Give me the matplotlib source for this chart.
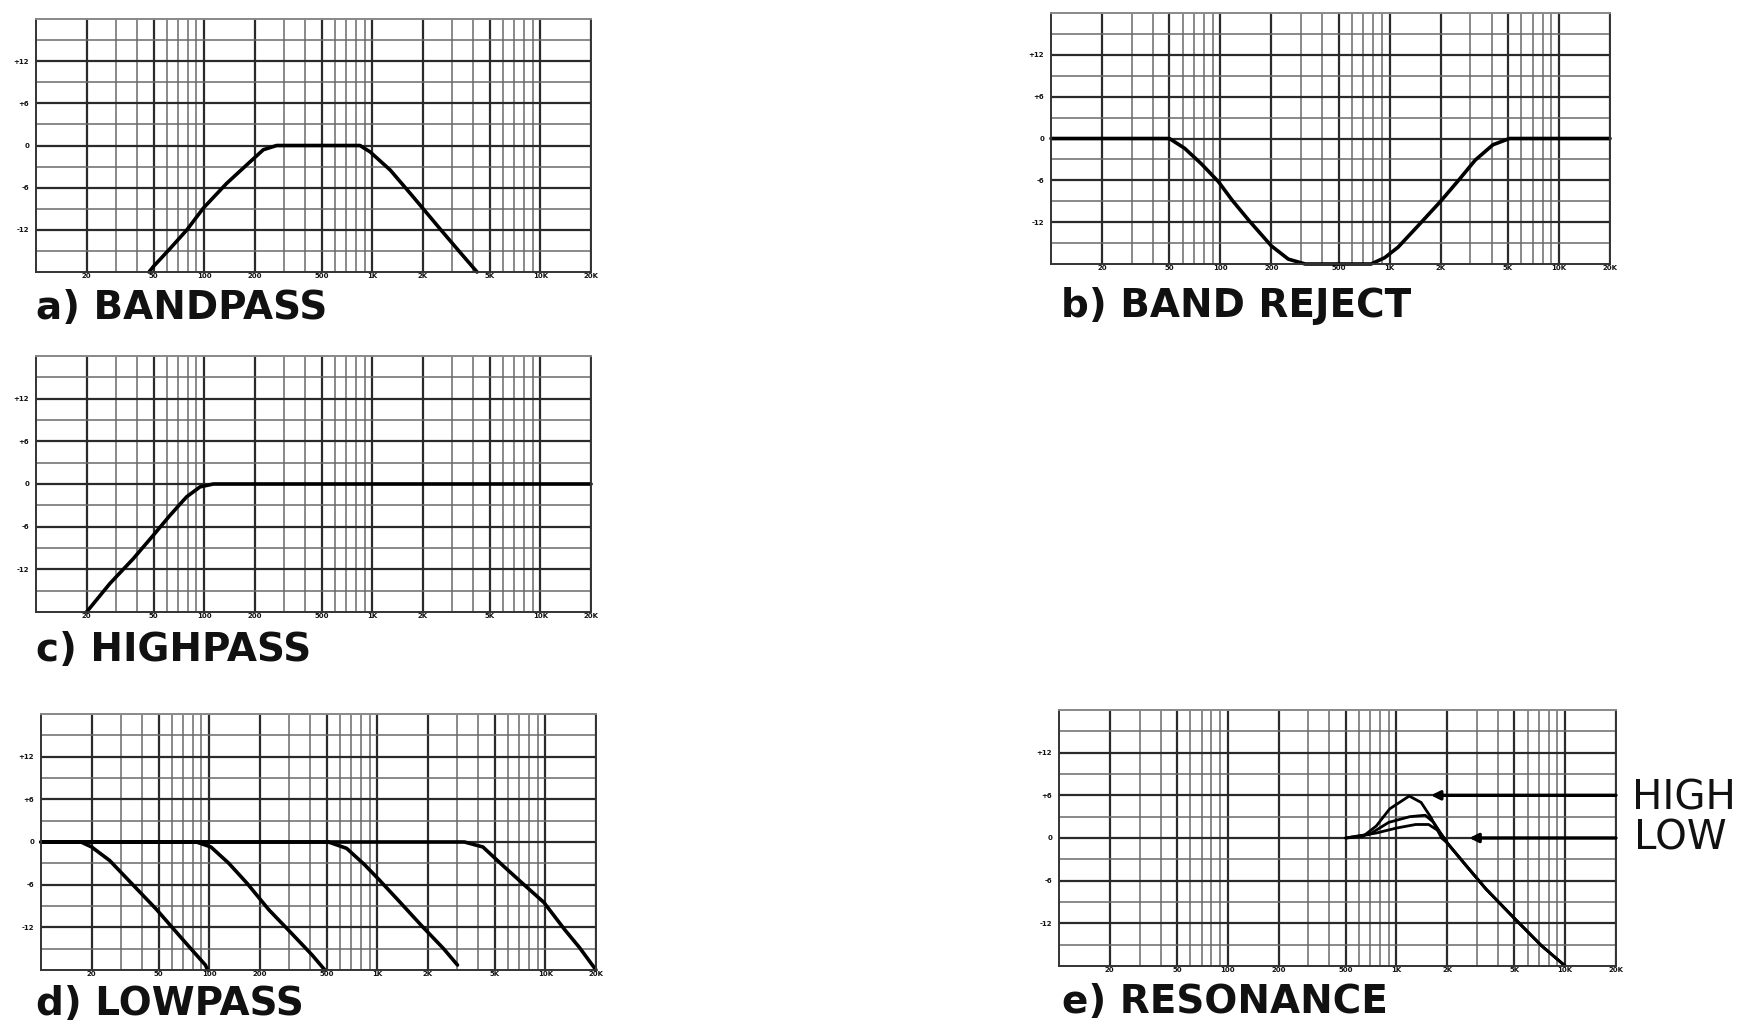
import matplotlib
matplotlib.use("Agg")
import matplotlib.pyplot as plt
from matplotlib.ticker import FixedLocator, FixedFormatter, NullFormatter

# ---- frequency-response data (Hz, dB) ----
bandpass_f = [47, 50, 62, 79, 99, 136, 188, 225, 270, 845, 970, 1280, 1680, 2160, 2600, 3300, 4200]
bandpass_db = [-18, -17.2, -14.8, -12.0, -8.9, -5.4, -2.3, -0.6, 0, 0, -0.9, -3.5, -6.8, -9.9, -12.2, -15.1, -18]

reject_f = [10, 50, 61.5, 77, 97.5, 117, 148, 200, 252, 317, 776, 934, 1120, 1410, 2000, 2570, 3200, 4070, 5100, 20000]
reject_db = [0, 0, -1.4, -3.6, -6.2, -8.8, -11.8, -15.4, -17.3, -18, -18, -17.1, -15.6, -13.0, -9.0, -5.9, -3.1, -0.9, 0, 0]

highpass_f = [20, 27.5, 37.9, 49.9, 62.7, 78.7, 94.6, 113.5, 20000]
highpass_db = [-18, -14.0, -10.5, -7.2, -4.4, -1.8, -0.4, 0, 0]

lowpass1_f = [10, 17.3, 20, 25.6, 34.5, 48.7, 69, 95, 98]
lowpass1_db = [0, 0, -0.7, -2.6, -5.8, -9.5, -13.6, -17.3, -18]
lowpass2_f = [10, 84, 102.5, 131, 168, 226, 305, 410, 488]
lowpass2_db = [0, 0, -0.7, -3.0, -5.8, -9.5, -12.7, -15.9, -18]
lowpass3_f = [10, 513, 658, 841, 1025, 1370, 1840, 2480, 3000]
lowpass3_db = [0, 0, -0.9, -3.2, -5.3, -8.5, -11.8, -15.0, -17.3]
lowpass4_f = [10, 3300, 4250, 5700, 7300, 9800, 13100, 15900, 20000]
lowpass4_db = [0, 0, -0.7, -3.5, -5.8, -8.5, -12.4, -14.8, -18]

res_high_f = [500, 631, 760, 912, 1190, 1400, 1600, 1850, 2000, 2570, 3400, 5000, 7200, 10000]
res_high_db = [0, 0.2, 1.7, 4.1, 5.9, 5.0, 2.9, 0, -0.7, -3.8, -7.2, -11.3, -15.1, -18]
res_mid_f = [500, 690, 900, 1200, 1480, 1660, 1900, 2000, 2570, 3400, 5000, 7200, 10000]
res_mid_db = [0, 0.5, 2.2, 3.0, 3.2, 2.2, 0.1, -0.7, -3.8, -7.2, -11.3, -15.1, -18]
res_low_f = [500, 760, 1000, 1300, 1550, 1750, 1950, 2000, 2570, 3400, 5000, 7200, 10000]
res_low_db = [0, 0.7, 1.4, 1.9, 1.9, 1.1, -0.2, -0.7, -3.8, -7.2, -11.3, -15.1, -18]

# arrow tips for the resonance labels (Hz, dB)
high_arrow = (1600, 6)
low_arrow = (2700, 0)

# ---- axis grid definitions ----
x_major = [20, 50, 100, 200, 500, 1000, 2000, 5000, 10000, 20000]
x_major_labels = ["20", "50", "100", "200", "500", "1K", "2K", "5K", "10K", "20K"]
x_minor = [30, 40, 60, 70, 80, 90, 300, 400, 600, 700, 800, 900,
           3000, 4000, 6000, 7000, 8000, 9000]
y_major = [-12, -6, 0, 6, 12]
y_major_labels = ["-12", "-6", "0", "+6", "+12"]
y_minor = [-15, -9, -3, 3, 9, 15]

W, H = 1757, 1024
fig = plt.figure(figsize=(W / 100, H / 100), dpi=100)
fig.patch.set_facecolor("white")


def chart(left, top, right, bottom):
    ax = fig.add_axes([left / W, 1 - bottom / H, (right - left) / W, (bottom - top) / H])
    ax.set_xscale("log")
    ax.set_xlim(10, 20000)
    ax.set_ylim(-18, 18)
    ax.xaxis.set_major_locator(FixedLocator(x_major))
    ax.xaxis.set_major_formatter(FixedFormatter(x_major_labels))
    ax.xaxis.set_minor_locator(FixedLocator(x_minor))
    ax.xaxis.set_minor_formatter(NullFormatter())
    ax.yaxis.set_major_locator(FixedLocator(y_major))
    ax.yaxis.set_major_formatter(FixedFormatter(y_major_labels))
    ax.yaxis.set_minor_locator(FixedLocator(y_minor))
    ax.tick_params(which="both", length=0)
    ax.tick_params(axis="x", which="major", pad=1, labelsize=5, labelcolor="#111111")
    ax.tick_params(axis="y", which="major", pad=5, labelsize=5, labelcolor="#111111")
    for lab in ax.get_xticklabels() + ax.get_yticklabels():
        lab.set_fontweight("bold")
    ax.grid(which="major", color="#2a2a2a", lw=1.6)
    ax.grid(which="minor", color="#6a6a6a", lw=1.1)
    for side in ("left", "right", "bottom"):
        ax.spines[side].set_color("#333333")
        ax.spines[side].set_linewidth(1.4)
    ax.spines["top"].set_color("#888888")
    ax.spines["top"].set_linewidth(1.4)
    ax.set_axisbelow(True)
    return ax


curve = dict(color="black", lw=2.6, solid_joinstyle="round", solid_capstyle="round", clip_on=False)
label_font = dict(family="DejaVu Sans", fontweight="bold", fontsize=28, color="#111111", va="baseline")

# a) bandpass
ax_a = chart(36, 19, 591, 272)
ax_a.plot(bandpass_f, bandpass_db, **curve)
fig.text(36 / W, 1 - 319 / H, "a) BANDPASS", **label_font)

# b) band reject
ax_b = chart(1051, 13, 1610, 264)
ax_b.plot(reject_f, reject_db, **curve)
fig.text(1061 / W, 1 - 317 / H, "b) BAND REJECT", **label_font)

# c) highpass
ax_c = chart(36, 356, 591, 612)
ax_c.plot(highpass_f, highpass_db, **curve)
fig.text(36 / W, 1 - 661 / H, "c) HIGHPASS", **label_font)

# d) lowpass, four cutoff settings
ax_d = chart(41, 714, 596, 970)
for f, db in ((lowpass1_f, lowpass1_db), (lowpass2_f, lowpass2_db),
              (lowpass3_f, lowpass3_db), (lowpass4_f, lowpass4_db)):
    ax_d.plot(f, db, **curve)
fig.text(36 / W, 1 - 1015 / H, "d) LOWPASS", **label_font)

# e) resonance, three emphasis settings
ax_e = chart(1059, 710, 1616, 966)
for f, db in ((res_low_f, res_low_db), (res_mid_f, res_mid_db), (res_high_f, res_high_db)):
    ax_e.plot(f, db, **dict(curve, lw=2.0))
arrow = dict(arrowstyle="-|>", color="black", lw=2.4, mutation_scale=13, shrinkA=0, shrinkB=0)
ax_e.annotate("", xy=high_arrow, xytext=(20000, high_arrow[1]), arrowprops=arrow)
ax_e.annotate("", xy=low_arrow, xytext=(20000, low_arrow[1]), arrowprops=arrow)
fig.text(1062 / W, 1 - 1013 / H, "e) RESONANCE", **label_font)
side_font = dict(family="DejaVu Sans", fontsize=29, color="#111111", va="baseline")
fig.text(1632 / W, 1 - 809 / H, "HIGH", **side_font)
fig.text(1634 / W, 1 - 849 / H, "LOW", **side_font)

fig.savefig("out.png", dpi=100, facecolor="white")
